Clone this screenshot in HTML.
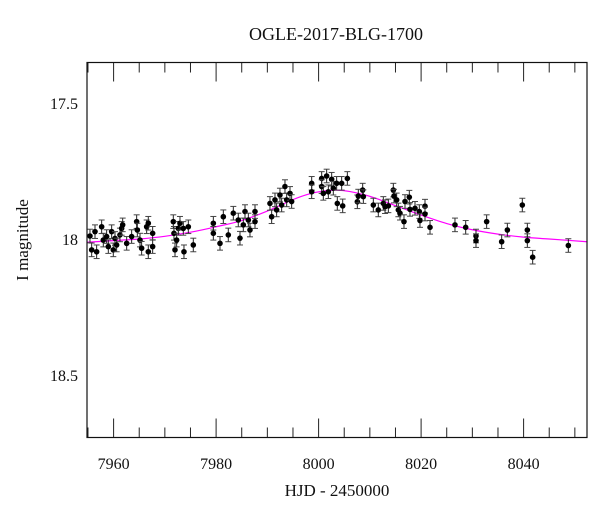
<!DOCTYPE html>
<html><head><meta charset="utf-8"><style>
body{margin:0;background:#fff}
svg text{font-family:"Liberation Serif",serif;fill:#111}
</style></head><body>
<svg id="chart" width="600" height="512" viewBox="0 0 600 512" xmlns="http://www.w3.org/2000/svg">
<text x="336" y="40" font-size="18" text-anchor="middle">OGLE-2017-BLG-1700</text>
<text x="337" y="496" font-size="17" text-anchor="middle">HJD - 2450000</text>
<text x="0" y="0" font-size="17" text-anchor="middle" transform="translate(28,240) rotate(-90)">I magnitude</text>
<g id="axes"></g>
<g id="model"></g>
<g id="points"></g>
<rect x="87" y="62.5" width="500" height="375" fill="none" stroke="#111" stroke-width="1.2"/>
</svg>
<script>
const xTicks=[7960,7980,8000,8020,8040];
const yTicks=[17.5,18,18.5];
const obsT=[7955.39,7955.72,7956.37,7956.69,7957.67,7957.99,7958.64,7958.97,7959.62,7959.94,7960.27,7960.59,7961.24,7961.57,7961.77,7962.55,7963.52,7964.50,7964.63,7965.15,7965.47,7966.45,7966.77,7966.77,7967.62,7967.62,7971.65,7971.78,7971.98,7972.30,7972.63,7972.95,7973.60,7973.73,7974.58,7975.55,7979.46,7979.46,7980.76,7981.41,7982.38,7983.36,7984.33,7984.66,7985.31,7985.64,7986.29,7986.61,7987.59,7987.59,7990.51,7990.84,7991.49,7991.81,7992.46,7992.79,7993.44,7993.77,7994.42,7994.74,
7998.65,7998.65,8000.60,8000.60,8000.92,8001.57,8001.90,8002.55,8002.87,8003.52,8003.65,8004.50,8004.70,8005.61,8007.56,8007.75,8008.60,8008.73,8010.68,8011.65,8012.63,8012.96,8013.61,8014.58,8014.71,8015.23,8015.56,8015.88,8016.66,8016.86,8017.70,8017.83,8018.81,8019.65,8019.78,8020.76,8020.76,8021.74,8026.61,8028.70,8030.71,8030.71,8032.79,8035.72,8036.83,8039.75,8040.73,8040.73,8041.77,8048.73];
const obsMag=[17.989,18.040,17.973,18.047,17.955,18.004,17.991,18.028,17.973,18.040,17.998,18.022,17.985,17.961,17.948,18.016,17.991,17.936,17.967,18.004,18.034,17.955,17.942,18.047,17.979,18.028,17.936,17.979,18.040,18.004,17.961,17.942,17.961,18.047,17.955,18.022,17.942,17.979,18.016,17.918,17.985,17.905,17.930,17.997,17.948,17.899,17.930,17.967,17.899,17.936,17.869,17.918,17.856,17.893,17.838,17.875,17.807,17.856,17.832,17.862,
17.795,17.826,17.777,17.807,17.832,17.768,17.826,17.780,17.813,17.795,17.869,17.795,17.878,17.777,17.863,17.842,17.820,17.844,17.875,17.893,17.869,17.881,17.878,17.820,17.842,17.856,17.893,17.905,17.936,17.862,17.846,17.891,17.887,17.899,17.932,17.879,17.908,17.957,17.948,17.957,17.989,18.006,17.936,18.010,17.967,17.875,17.967,18.006,18.067,18.024];
const modelT=[7954.8,7960,7965,7970,7975,7980,7985,7990,7995,7998,8001,8003.5,8006,8010,8015,8020,8025,8030,8035,8040,8045,8052.4];
const modelMag=[18.012,18.006,18.0,17.99,17.975,17.955,17.932,17.897,17.855,17.835,17.823,17.82,17.825,17.843,17.877,17.912,17.943,17.966,17.982,17.993,18.0,18.01];
const errSize=0.025;
const NS="http://www.w3.org/2000/svg";
const X=t=>113.6+(t-7960)*5.125;
const Y=m=>239+(m-18)*271.6;
function mk(tag,attrs,parent){const e=document.createElementNS(NS,tag);for(const k in attrs)e.setAttribute(k,attrs[k]);parent.appendChild(e);return e;}
const axes=document.getElementById('axes');
for(let t=7955;t<=8050;t+=5){
  const maj=xTicks.includes(t), L=maj?19:10, x=X(t);
  const b=mk('line',{x1:x,x2:x,y1:437.5,y2:437.5-L,stroke:'#222','stroke-width':1},axes);
  
  const tp=mk('line',{x1:x,x2:x,y1:62.5,y2:62.5+L,stroke:'#222','stroke-width':1},axes);
  
}
xTicks.forEach(t=>{const e=mk('text',{x:X(t),y:469,'font-size':16,'text-anchor':'middle'},axes);e.textContent=t;
  });
for(let i=14;i<=27;i++){
  const m=i/20, maj=yTicks.includes(m), L=maj?19:10, y=Y(m);
  if(y<63||y>437)continue;
  const l=mk('line',{x1:87,x2:87+L,y1:y,y2:y,stroke:'#222','stroke-width':1},axes);
  
  const r=mk('line',{x1:587,x2:587-L,y1:y,y2:y,stroke:'#222','stroke-width':1},axes);
  
}
yTicks.forEach(m=>{const e=mk('text',{x:78,y:Y(m)+6,'font-size':16,'text-anchor':'end'},axes);e.textContent=m;
  });
// model curve (Catmull-Rom through points)
const pts=modelT.map((t,i)=>[X(t),Y(modelMag[i])]);
let d='M'+pts[0][0]+','+pts[0][1];
for(let i=0;i<pts.length-1;i++){
  const p0=pts[Math.max(0,i-1)],p1=pts[i],p2=pts[i+1],p3=pts[Math.min(pts.length-1,i+2)];
  d+=' C'+(p1[0]+(p2[0]-p0[0])/6)+','+(p1[1]+(p2[1]-p0[1])/6)+' '+(p2[0]-(p3[0]-p1[0])/6)+','+(p2[1]-(p3[1]-p1[1])/6)+' '+p2[0]+','+p2[1];
}
const mp=mk('path',{d:d,fill:'none',stroke:'#ff00ff','stroke-width':1.2},document.getElementById('model'));

const pg=document.getElementById('points');
obsT.forEach((t,i)=>{
  const x=X(t),y=Y(obsMag[i]),y1=Y(obsMag[i]-errSize),y2=Y(obsMag[i]+errSize);
  const g=mk('g',{},pg);
  
  mk('line',{x1:x,x2:x,y1:y1,y2:y2,stroke:'#222','stroke-width':1},g);
  mk('line',{x1:x-3,x2:x+3,y1:y1,y2:y1,stroke:'#444','stroke-width':1},g);
  mk('line',{x1:x-3,x2:x+3,y1:y2,y2:y2,stroke:'#444','stroke-width':1},g);
  mk('circle',{cx:x,cy:y,r:2.8,fill:'#000'},g);
});
</script>
</body></html>
